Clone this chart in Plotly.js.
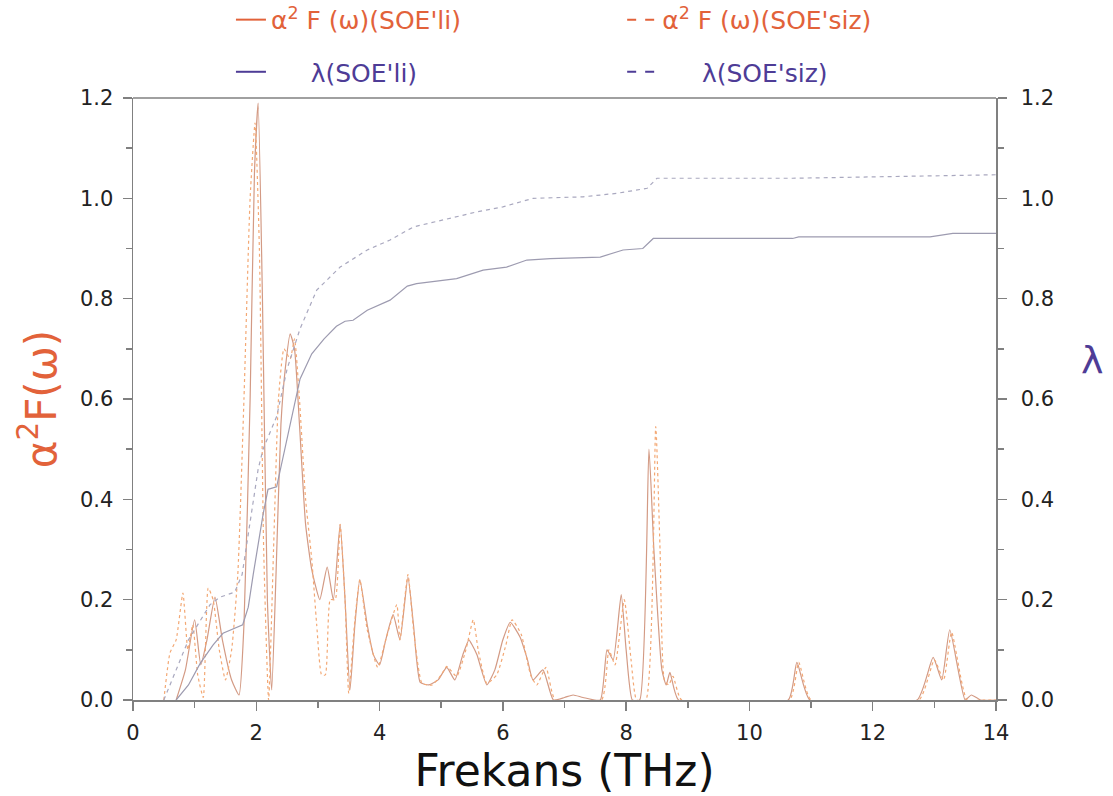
<!DOCTYPE html>
<html>
<head>
<meta charset="utf-8">
<script src="https://cdn.plot.ly/plotly-3.0.1.min.js"></script>
<style>html,body{margin:0;padding:0;background:#fff;}#chart{width:1113px;height:796px;}</style>
</head>
<body>
<div id="chart"></div>
<script>
// α²F(ω) with SOE (solid)
const a2fLiX = [0.7,0.85,1.0,1.1,1.2,1.33,1.45,1.6,1.72,1.8,1.9,1.97,2.03,2.1,2.18,2.25,2.32,2.4,2.47,2.55,2.62,2.7,2.8,2.9,3.03,3.15,3.25,3.36,3.44,3.52,3.6,3.68,3.8,3.9,4.0,4.1,4.22,4.33,4.46,4.55,4.66,4.8,4.95,5.09,5.22,5.35,5.45,5.5,5.58,5.74,5.87,6.0,6.12,6.28,6.4,6.49,6.65,6.82,7.0,7.14,7.3,7.58,7.69,7.79,7.92,8.0,8.1,8.22,8.37,8.45,8.58,8.65,8.71,8.85,10.63,10.77,10.98,12.72,12.98,13.12,13.25,13.5,13.6,13.75,14.0];
const a2fLiY = [0,0.06,0.16,0.07,0.12,0.205,0.12,0.04,0.01,0.15,0.6,1.05,1.19,0.8,0.2,0.02,0.25,0.55,0.66,0.73,0.7,0.55,0.35,0.26,0.2,0.265,0.2,0.35,0.2,0.02,0.15,0.24,0.15,0.09,0.07,0.12,0.17,0.12,0.245,0.15,0.035,0.03,0.04,0.065,0.04,0.09,0.12,0.11,0.09,0.03,0.06,0.12,0.155,0.125,0.08,0.04,0.06,0.0,0.005,0.01,0.005,0.0,0.1,0.08,0.21,0.1,0.0,0.0,0.5,0.3,0.06,0.03,0.055,0,0,0.075,0,0,0.085,0.04,0.14,0,0.01,0,0];
// α²F(ω) without SOE (dashed)
const a2fSizX = [0.5,0.6,0.7,0.81,0.89,0.97,1.05,1.14,1.22,1.3,1.4,1.5,1.6,1.7,1.8,1.9,1.98,2.05,2.12,2.2,2.28,2.36,2.45,2.55,2.62,2.7,2.8,2.9,2.98,3.06,3.12,3.2,3.28,3.36,3.44,3.5,3.6,3.68,3.8,3.97,4.1,4.28,4.33,4.46,4.56,4.69,4.85,5.0,5.09,5.25,5.4,5.52,5.6,5.74,5.9,6.05,6.15,6.3,6.45,6.55,6.7,6.85,7.6,7.72,7.82,7.97,8.08,8.17,8.32,8.48,8.55,8.62,8.69,8.76,8.9,10.65,10.8,11.0,12.75,13.0,13.15,13.28,13.53,13.78,14.0];
const a2fSizY = [0,0.094,0.12,0.213,0.1,0.15,0.05,0.005,0.223,0.2,0.1,0.04,0.1,0.25,0.6,1.0,1.15,0.9,0.3,0.0,0.3,0.6,0.7,0.68,0.72,0.6,0.4,0.28,0.15,0.05,0.05,0.2,0.2,0.35,0.2,0.013,0.16,0.24,0.14,0.065,0.12,0.19,0.12,0.25,0.13,0.033,0.03,0.05,0.067,0.047,0.1,0.16,0.1,0.033,0.05,0.11,0.16,0.13,0.05,0.03,0.065,0,0,0.1,0.07,0.2,0.08,0,0,0.545,0.3,0.04,0.03,0.047,0,0,0.075,0,0,0.08,0.04,0.135,0,0,0];
// λ with SOE (solid)
const lamLiX = [0.7,0.9,1.09,1.3,1.46,1.6,1.78,1.87,1.95,2.11,2.19,2.33,2.5,2.71,2.9,3.1,3.3,3.44,3.57,3.8,4.17,4.45,4.6,5.25,5.68,6.06,6.39,6.77,7.58,7.95,8.27,8.44,9.2,10.7,10.8,12.93,13.3,14.0];
const lamLiY = [0,0.03,0.073,0.11,0.133,0.14,0.15,0.185,0.25,0.37,0.42,0.425,0.52,0.64,0.69,0.72,0.745,0.755,0.757,0.777,0.797,0.825,0.83,0.84,0.857,0.863,0.877,0.88,0.883,0.897,0.9,0.92,0.92,0.92,0.923,0.923,0.93,0.93];
// λ without SOE (dashed)
const lamSizX = [0.5,0.7,0.9,1.1,1.25,1.41,1.65,1.77,1.87,1.95,2.03,2.11,2.33,2.5,2.71,2.98,3.36,3.8,4.17,4.55,5.14,5.58,6.0,6.49,7.3,7.85,8.34,8.5,10.7,13.2,14.0];
const lamSizY = [0,0.06,0.12,0.16,0.19,0.205,0.215,0.25,0.33,0.4,0.46,0.5,0.565,0.66,0.74,0.817,0.863,0.897,0.917,0.943,0.96,0.973,0.983,1.0,1.003,1.01,1.02,1.04,1.04,1.046,1.047];

const legendNames = ["α<sup>2</sup> F (ω)(SOE'li)", "α<sup>2</sup> F (ω)(SOE'siz)", "\u00a0\u00a0\u00a0\u00a0\u00a0λ(SOE'li)", "\u00a0\u00a0\u00a0\u00a0\u00a0λ(SOE'siz)"];
const xTicks = [0,2,4,6,8,10,12,14];
const yTicks = [0.0,0.2,0.4,0.6,0.8,1.0,1.2];
const yTickText = yTicks.map(v => v.toFixed(1));

const orangeLeg = '#e2623a', purpleLeg = '#4e3c96';
const traces = [
  {x:a2fLiX, y:a2fLiY, mode:'lines', line:{color:'#d39a84', width:1.2, shape:'spline', smoothing:0.5}, showlegend:false, yaxis:'y'},
  {x:a2fSizX, y:a2fSizY, mode:'lines', line:{color:'#f3a874', width:1.2, dash:'3px,3px', shape:'spline', smoothing:0.5}, showlegend:false, yaxis:'y'},
  {x:lamLiX, y:lamLiY, mode:'lines', line:{color:'#9d9bb0', width:1.2}, showlegend:false, yaxis:'y2'},
  {x:lamSizX, y:lamSizY, mode:'lines', line:{color:'#a9a8bf', width:1.2, dash:'4px,4px'}, showlegend:false, yaxis:'y2'},
  // legend entries
  {x:[null], y:[null], mode:'lines', name:legendNames[0], line:{color:orangeLeg, width:2}, legend:'legend'},
  {x:[null], y:[null], mode:'lines', name:legendNames[1], line:{color:orangeLeg, width:2, dash:'dash'}, legend:'legend2'},
  {x:[null], y:[null], mode:'lines', name:legendNames[2], line:{color:purpleLeg, width:2}, legend:'legend3'},
  {x:[null], y:[null], mode:'lines', name:legendNames[3], line:{color:purpleLeg, width:2, dash:'dash'}, legend:'legend4'}
];

const fam = 'DejaVu Sans, Liberation Sans, Arial, sans-serif';
function leg(x, y, color) {
  return {xref:'container', yref:'container', x:x, y:y, xanchor:'left', yanchor:'middle',
          orientation:'h', font:{family:fam, size:25, color:color}, bgcolor:'rgba(0,0,0,0)'};
}
const axisCommon = {ticks:'outside', ticklen:9, tickcolor:'#808080', tickwidth:1.5,
  showline:true, linecolor:'#808080', linewidth:1.5, showgrid:false, zeroline:false,
  tickfont:{family:fam, size:21, color:'#222'}};
const layout = {
  width:1113, height:796,
  margin:{l:133, r:117, t:98, b:96, autoexpand:false},
  paper_bgcolor:'#fff', plot_bgcolor:'#fff',
  font:{family:fam, color:'#222', size:20},
  xaxis:Object.assign({}, axisCommon, {range:[0,14], tickvals:xTicks, ticklabelstandoff:4,
         minor:{dtick:1, ticks:'outside', ticklen:6, tickcolor:'#808080'},
         title:{text:'Frekans (THz)', font:{family:fam, size:44, color:'#111'}, standoff:12}}),
  yaxis:Object.assign({}, axisCommon, {range:[0,1.2], tickvals:yTicks, ticktext:yTickText, ticklabelstandoff:5,
         minor:{dtick:0.1, ticks:'outside', ticklen:6, tickcolor:'#808080'},
         title:{text:'α<sup>2</sup>F(ω)', font:{family:fam, size:42, color:'#e2623a'}, standoff:10}}),
  yaxis2:Object.assign({}, axisCommon, {range:[0,1.2], overlaying:'y', side:'right', tickvals:yTicks, ticktext:yTickText, ticklabelstandoff:10,
         minor:{dtick:0.1, ticks:'outside', ticklen:6, tickcolor:'#808080'}}),
  shapes:[{type:'line', xref:'paper', yref:'paper', x0:0, x1:1, y0:1, y1:1, line:{color:'#808080', width:1.5}}],
  annotations:[{text:'λ', xref:'paper', yref:'paper', x:1.112, y:0.565, showarrow:false, textangle:0,
                font:{family:fam, size:38, color:'#4e3c96'}, xanchor:'center', yanchor:'middle'}],
  legend: leg(0.2075, 0.975, orangeLeg),
  legend2: leg(0.559, 0.975, orangeLeg),
  legend3: leg(0.2075, 0.9095, purpleLeg),
  legend4: leg(0.559, 0.9095, purpleLeg)
};
Plotly.newPlot('chart', traces, layout, {displayModeBar:false, staticPlot:true});
</script>
</body>
</html>
